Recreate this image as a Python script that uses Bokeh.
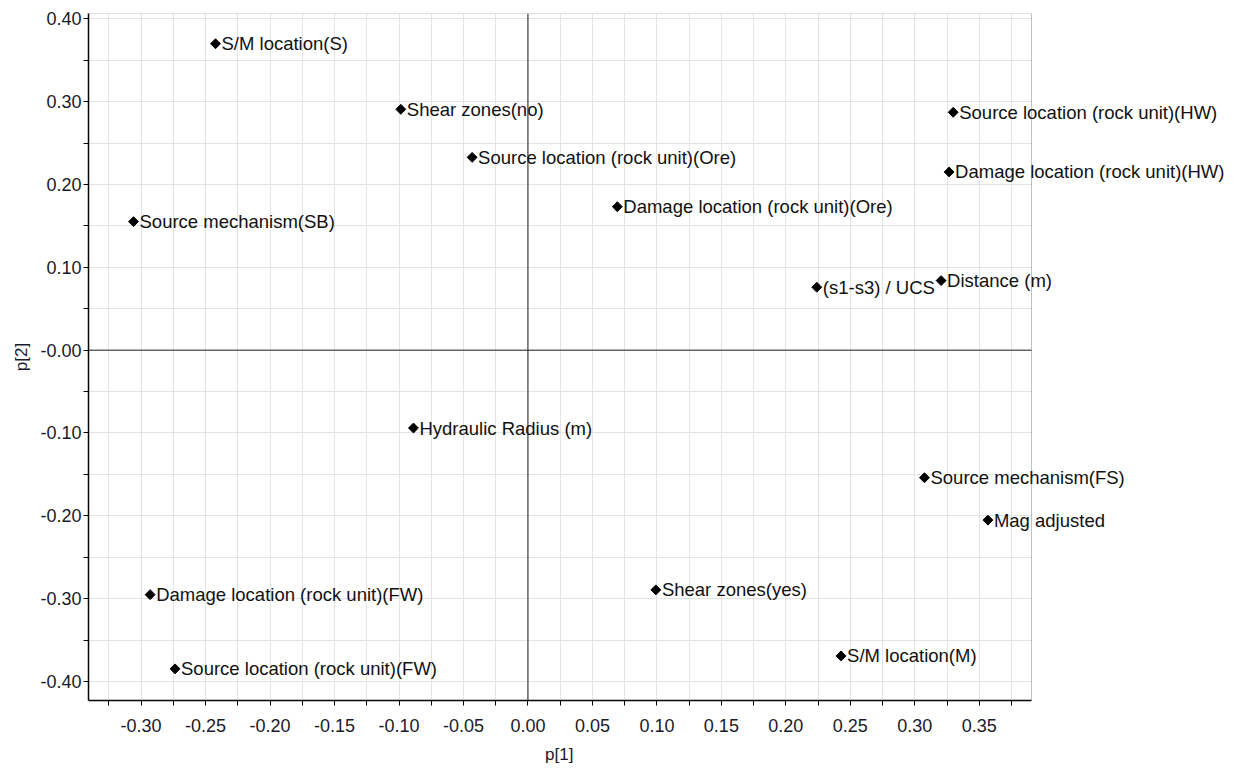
import numpy as np
from bokeh.plotting import figure
from bokeh.models import (ColumnDataSource, LabelSet, Span, FixedTicker, PrintfTickFormatter,
                          Range1d, BoxAnnotation, Title)
from bokeh.core.properties import value
from bokeh.embed import file_html
from bokeh.resources import INLINE

# Loadings of each variable on the first two components
variables = [
    "S/M location(S)",
    "Shear zones(no)",
    "Source location (rock unit)(Ore)",
    "Source mechanism(SB)",
    "Source location (rock unit)(HW)",
    "Damage location (rock unit)(HW)",
    "Damage location (rock unit)(Ore)",
    "(s1-s3) / UCS",
    "Distance (m)",
    "Hydraulic Radius (m)",
    "Source mechanism(FS)",
    "Mag adjusted",
    "Damage location (rock unit)(FW)",
    "Shear zones(yes)",
    "Source location (rock unit)(FW)",
    "S/M location(M)",
]
p1 = [-0.2423, -0.0986, -0.0433, -0.3059, 0.3298, 0.3266, 0.0693, 0.2240,
      0.3204, -0.0888, 0.3075, 0.3567, -0.2930, 0.0992, -0.2737, 0.2428]
p2 = [0.3700, 0.2908, 0.2328, 0.1552, 0.2872, 0.2152, 0.1732, 0.0760,
      0.0840, -0.0940, -0.1540, -0.2052, -0.2952, -0.2894, -0.3848, -0.3692]

# Axis ticks and labels
x_ticks = [-0.30, -0.25, -0.20, -0.15, -0.10, -0.05, 0.0, 0.05, 0.10, 0.15, 0.20, 0.25, 0.30, 0.35]
x_minor = [-0.325, -0.275, -0.225, -0.175, -0.125, -0.075, -0.025, 0.025, 0.075,
           0.125, 0.175, 0.225, 0.275, 0.325, 0.375]
y_ticks = [-0.40, -0.30, -0.20, -0.10, 0.0, 0.10, 0.20, 0.30, 0.40]
y_tick_labels = ["-0.40", "-0.30", "-0.20", "-0.10", "-0.00", "0.10", "0.20", "0.30", "0.40"]
y_minor = [-0.35, -0.25, -0.15, -0.05, 0.05, 0.15, 0.25, 0.35]

# Plot-area limits (the canvas extends further right so long labels are not cut)
x_lo, x_hi = -0.3408, 0.3905
y_lo, y_hi = -0.423, 0.4065
canvas_x_hi = 0.5518
AREA_WIDTH_PX = 943

source = ColumnDataSource(data=dict(p1=p1, p2=p2, name=variables))

p = figure(
    width=1239, height=771,
    x_range=Range1d(x_lo, canvas_x_hi), y_range=Range1d(y_lo, y_hi),
    output_backend="svg", toolbar_location=None,
    min_border_left=88, min_border_right=0, min_border_top=13, min_border_bottom=71,
    background_fill_color="white", border_fill_color="white",
)
p.outline_line_color = None

FONT = "Liberation Sans"
TEXT_COLOR = "#1a1a2a"

for ax, ticks, minor in ((p.xaxis[0], x_ticks, x_minor), (p.yaxis[0], y_ticks, y_minor)):
    ax.ticker = FixedTicker(ticks=ticks, minor_ticks=minor)
    ax.formatter = PrintfTickFormatter(format="%.2f")
    ax.axis_line_color = "black"
    ax.axis_line_width = 1.5
    ax.major_tick_in = 0
    ax.major_tick_out = 5
    ax.minor_tick_in = 0
    ax.minor_tick_out = 5
    ax.major_tick_line_color = "black"
    ax.minor_tick_line_color = "black"
    ax.major_label_text_font = FONT
    ax.major_label_text_font_size = "18px"
    ax.major_label_text_color = TEXT_COLOR
    ax.axis_label_text_font = FONT
    ax.axis_label_text_font_size = "17px"
    ax.axis_label_text_font_style = "normal"
    ax.axis_label_text_color = TEXT_COLOR

p.xaxis.bounds = (x_lo, x_hi)
p.yaxis.axis_label = "p[2]"
p.xaxis.major_label_standoff = 13
p.yaxis.major_label_standoff = 2
p.yaxis.axis_label_standoff = 6
p.yaxis.major_label_overrides = dict(zip(y_ticks, y_tick_labels))

# x-axis title, centred under the plot area rather than the wider canvas
xtitle = Title(text="p[1]", align="left", offset=AREA_WIDTH_PX / 2 - 15, standoff=16,
               text_font=FONT, text_font_size="17px", text_font_style="normal",
               text_color=TEXT_COLOR)
p.add_layout(xtitle, "below")

for g in (p.xgrid[0], p.ygrid[0]):
    g.grid_line_color = "#e4e4e4"
    g.grid_line_width = 1
    g.minor_grid_line_color = "#e4e4e4"
    g.minor_grid_line_width = 1
p.xgrid.ticker = p.xaxis[0].ticker
p.ygrid.ticker = p.yaxis[0].ticker

# Blank out the grid to the right of the plot area
p.add_layout(BoxAnnotation(left=x_hi, fill_color="white", fill_alpha=1.0,
                           line_color=None, level="underlay"))

# Diamond markers
p.scatter(x="p1", y="p2", source=source, marker="square", angle=np.pi / 4,
          size=7, fill_color="black", line_color="black")

labels = LabelSet(x="p1", y="p2", text="name", source=source, x_offset=6, y_offset=0,
                  text_baseline="middle", text_align="left",
                  text_font=value(FONT), text_font_size="18.5px", text_color="#111111")
p.add_layout(labels)

# Frame of the plot area and origin lines, drawn over the labels
p.add_layout(BoxAnnotation(left=x_lo, right=x_hi, bottom=y_lo, top=y_hi,
                           fill_alpha=0, line_color="#333333", line_width=1, level="overlay"))
p.add_layout(Span(location=0, dimension="height", line_color="#222222", line_width=1, level="overlay"))
p.segment(x0=[x_lo], y0=[0], x1=[x_hi], y1=[0], line_color="#222222", line_width=1, level="overlay")

open("out.html", "w").write(file_html(p, INLINE))
